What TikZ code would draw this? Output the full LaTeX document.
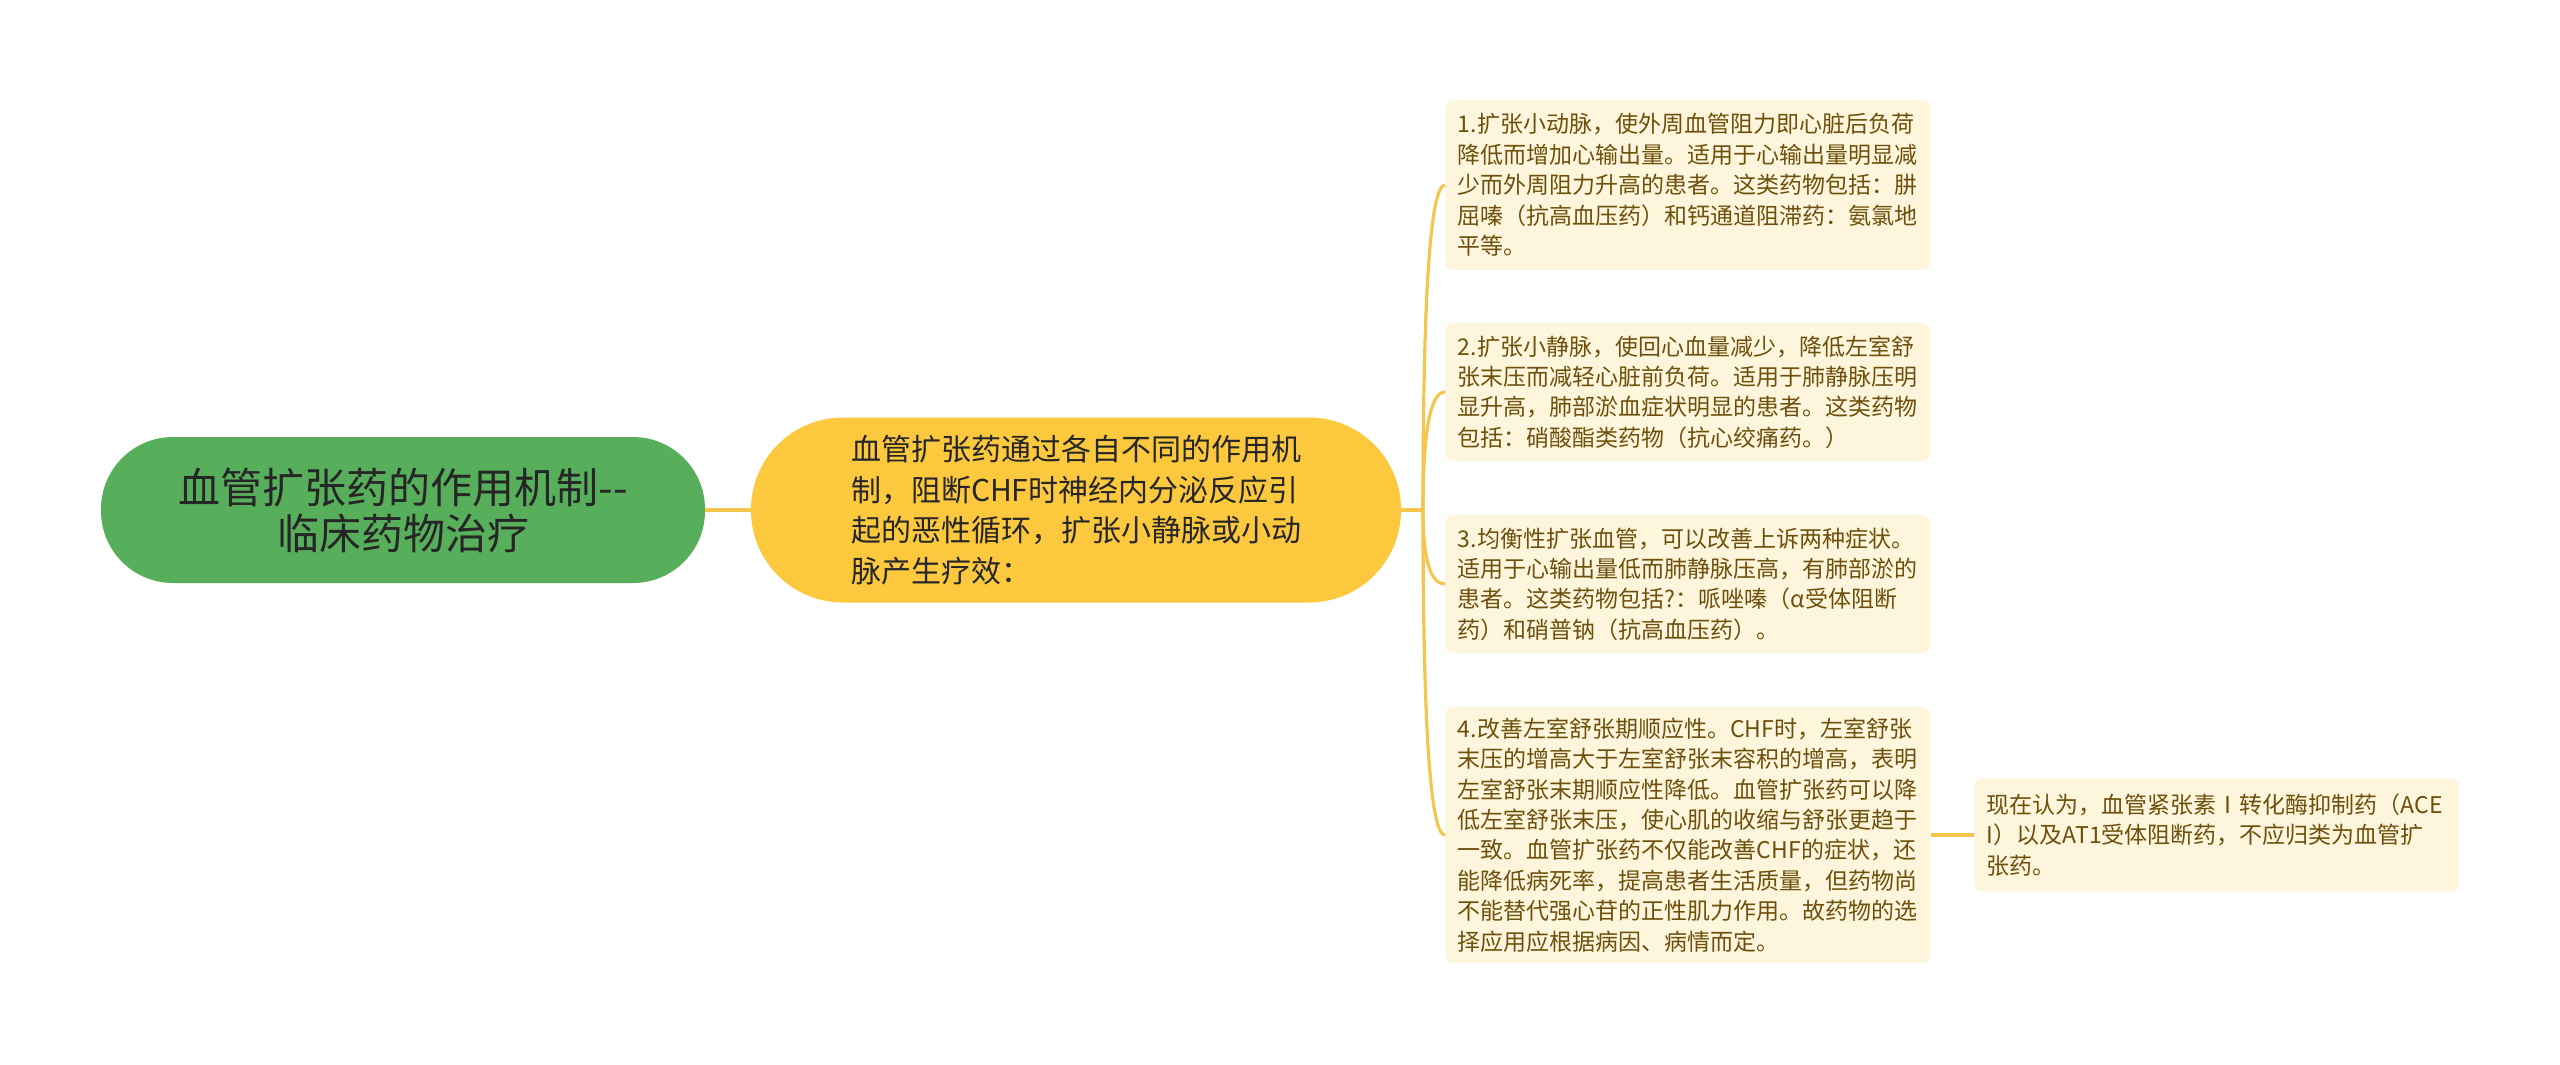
\documentclass[tikz,border=0pt]{standalone}
\usepackage{fontspec}
\setmainfont{Noto Sans CJK SC}
\usetikzlibrary{calc}
\definecolor{rootgreen}{RGB}{88,175,91}
\definecolor{mainyellow}{RGB}{251,200,62}
\definecolor{leaffill}{RGB}{253,246,220}
\definecolor{leaftext}{RGB}{110,80,12}
\definecolor{linkyellow}{RGB}{245,198,78}
\begin{document}
\begin{tikzpicture}[x=0.5pt,y=-0.5pt,
  rootnode/.style={rectangle,rounded corners=36pt,fill=rootgreen,
    minimum width=302pt,minimum height=73pt,align=center,
    text=black!85,font=\fontsize{21pt}{23pt}\selectfont},
  mainnode/.style={rectangle,rounded corners=46pt,fill=mainyellow,
    minimum width=325pt,minimum height=92.5pt,text width=225pt,align=left,
    text=black!85,font=\fontsize{15pt}{20.4pt}\selectfont},
  leafnode/.style={rectangle,rounded corners=4pt,fill=leaffill,anchor=west,
    minimum width=242.5pt,text width=230pt,align=left,
    text=leaftext,font=\fontsize{11.5pt}{15.2pt}\selectfont},
  link/.style={draw=linkyellow,line width=1.6pt}]
  \useasboundingbox (0,0) rectangle (2560,1065);
  \node[rootnode] (root) at (403,510) {血管扩张药的作用机制-{}-\\临床药物治疗};
  \node[mainnode] (main) at (1076,510) {血管扩张药通过各自不同的作用机\\制，阻断CHF时神经内分泌反应引\\起的恶性循环，扩张小静脉或小动\\脉产生疗效：};
  \node[leafnode,minimum height=85pt] (one) at (1445,185) {1.扩张小动脉，使外周血管阻力即心脏后负荷\\降低而增加心输出量。适用于心输出量明显减\\少而外周阻力升高的患者。这类药物包括：肼\\屈嗪（抗高血压药）和钙通道阻滞药：氨氯地\\平等。};
  \node[leafnode,minimum height=69pt] (two) at (1445,392) {2.扩张小静脉，使回心血量减少，降低左室舒\\张末压而减轻心脏前负荷。适用于肺静脉压明\\显升高，肺部淤血症状明显的患者。这类药物\\包括：硝酸酯类药物（抗心绞痛药。）};
  \node[leafnode,minimum height=69pt] (three) at (1445,584) {3.均衡性扩张血管，可以改善上诉两种症状。\\适用于心输出量低而肺静脉压高，有肺部淤的\\患者。这类药物包括?：哌唑嗪（α受体阻断\\药）和硝普钠（抗高血压药）。};
  \node[leafnode,minimum height=128pt] (four) at (1445,835) {4.改善左室舒张期顺应性。CHF时，左室舒张\\末压的增高大于左室舒张末容积的增高，表明\\左室舒张末期顺应性降低。血管扩张药可以降\\低左室舒张末压，使心肌的收缩与舒张更趋于\\一致。血管扩张药不仅能改善CHF的症状，还\\能降低病死率，提高患者生活质量，但药物尚\\不能替代强心苷的正性肌力作用。故药物的选\\择应用应根据病因、病情而定。};
  \node[leafnode,minimum height=56.5pt] (five) at (1974,835) {现在认为，血管紧张素Ⅰ转化酶抑制药（ACE\\I）以及AT1受体阻断药，不应归类为血管扩\\张药。};
  % links
  \draw[link] (root.east) -- (main.west);
  \coordinate (fork) at (1423,510);
  \draw[link] (main.east) -- (fork);
  \foreach \leaf in {one,two,three,four}
    \draw[link] (fork) .. controls ($(fork)!0.667!(fork |- \leaf.west)$) and ($(\leaf.west)!0.667!(fork |- \leaf.west)$) .. (\leaf.west);
  \draw[link] (four.east) -- (five.west);
\end{tikzpicture}
\end{document}
